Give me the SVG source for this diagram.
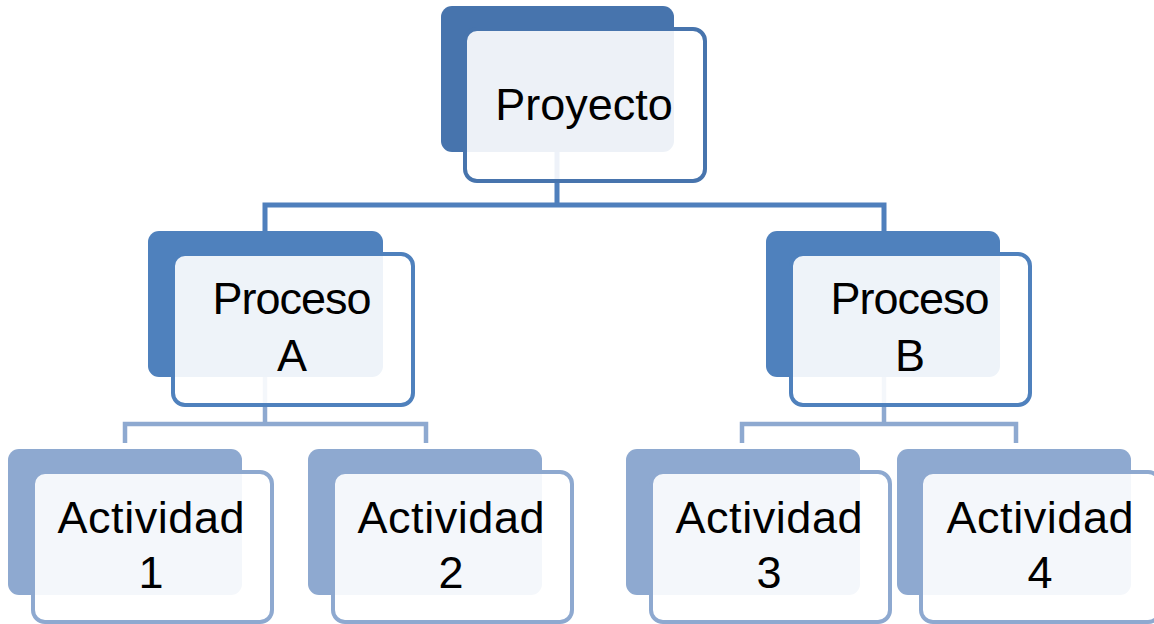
<svg xmlns="http://www.w3.org/2000/svg" width="1154" height="624" viewBox="0 0 1154 624">
<style>
.t{font-family:"Liberation Sans",Arial,sans-serif;font-size:45px;fill:#000;text-anchor:middle}
.front{fill:#fff;fill-opacity:0.9;stroke-width:4}
.l1{fill:none;stroke:#4F7FBC;stroke-width:5}
.l2{fill:none;stroke:#8EA9D0;stroke-width:4.5}
.b0{fill:#4774AD}.s0{stroke:#4774AD}
.b1{fill:#4F81BD}.s1{stroke:#4F81BD}
.b2{fill:#8EA9D0}.s2{stroke:#8EA9D0}
</style>
<rect width="1154" height="624" fill="#fff"/>
<g id="connectors">
<path class="l1" d="M557 150V205M265 232V205H884V232"/>
<path class="l2" d="M265 377V424M125 443V424H426V443"/>
<path class="l2" d="M884 377V424M742 443V424H1016V443"/>
</g>
<g id="proyecto">
<rect class="b0" x="441" y="6" width="233" height="146" rx="11"/>
<rect class="front s0" x="465" y="29" width="240" height="152" rx="12"/>
<text class="t" x="584" y="120">Proyecto</text>
</g>
<g id="procesoA">
<rect class="b1" x="148" y="231" width="235" height="146" rx="11"/>
<rect class="front s1" x="173" y="254" width="240" height="151" rx="12"/>
<text class="t" x="292" y="314" textLength="159">Proceso</text>
<text class="t" x="292" y="371">A</text>
</g>
<g id="procesoB">
<rect class="b1" x="766" y="231" width="234" height="146" rx="11"/>
<rect class="front s1" x="791" y="254" width="239" height="151" rx="12"/>
<text class="t" x="910" y="314" textLength="159">Proceso</text>
<text class="t" x="910" y="371">B</text>
</g>
<g id="act1">
<rect class="b2" x="8" y="449" width="234" height="146" rx="11"/>
<rect class="front s2" x="33" y="472" width="239" height="150" rx="12"/>
<text class="t" x="151" y="533" textLength="187">Actividad</text>
<text class="t" x="151" y="588">1</text>
</g>
<g id="act2">
<rect class="b2" x="308" y="449" width="234" height="146" rx="11"/>
<rect class="front s2" x="333" y="472" width="239" height="150" rx="12"/>
<text class="t" x="451" y="533" textLength="187">Actividad</text>
<text class="t" x="451" y="588">2</text>
</g>
<g id="act3">
<rect class="b2" x="626" y="449" width="234" height="146" rx="11"/>
<rect class="front s2" x="651" y="472" width="239" height="150" rx="12"/>
<text class="t" x="769" y="533" textLength="187">Actividad</text>
<text class="t" x="769" y="588">3</text>
</g>
<g id="act4">
<rect class="b2" x="897" y="449" width="234" height="146" rx="11"/>
<rect class="front s2" x="921" y="472" width="239" height="150" rx="12"/>
<text class="t" x="1040" y="533" textLength="187">Actividad</text>
<text class="t" x="1040" y="588">4</text>
</g>
</svg>
